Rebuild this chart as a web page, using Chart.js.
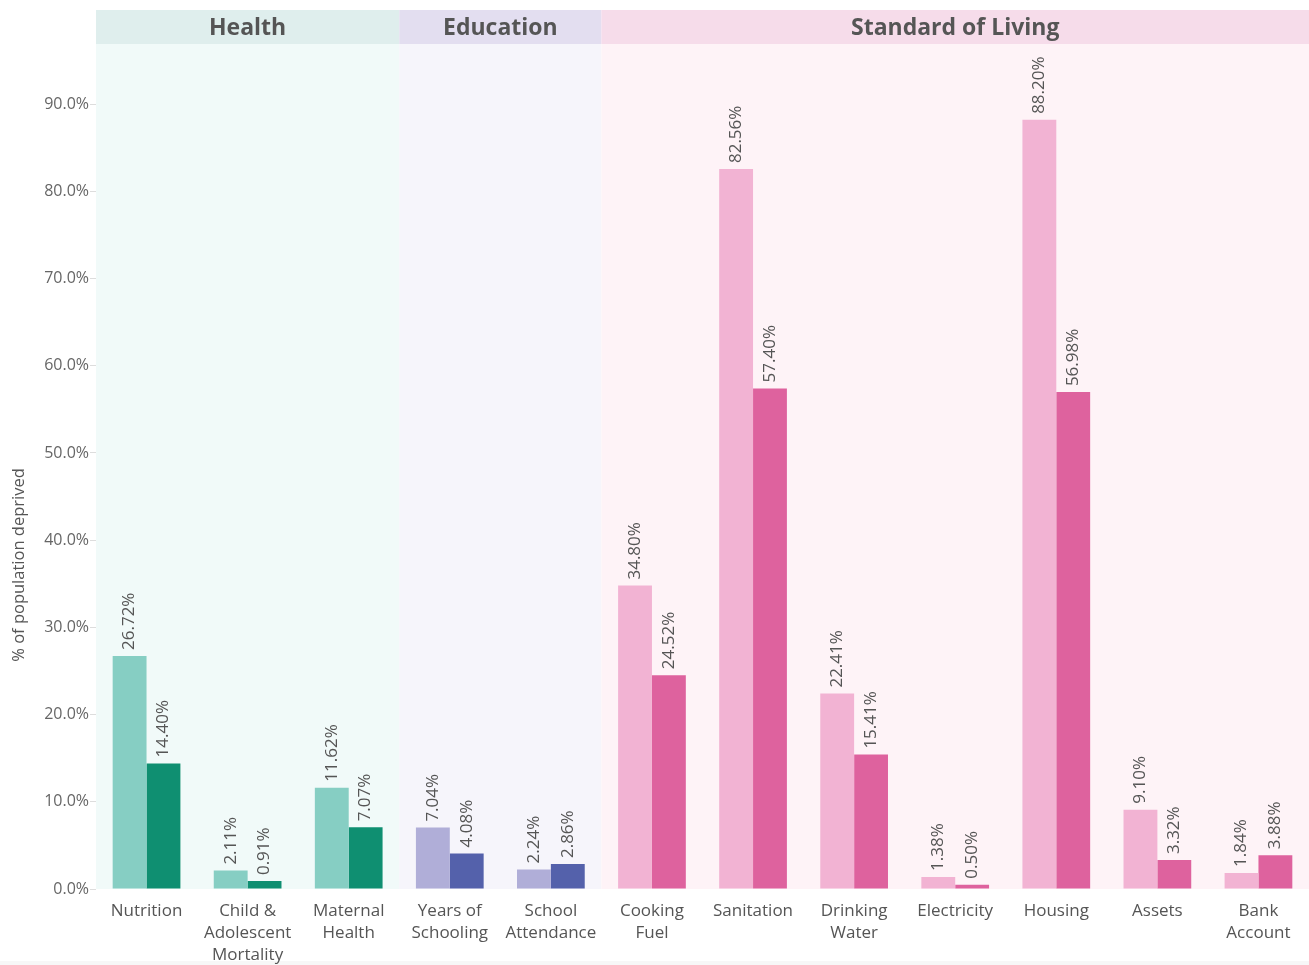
<!DOCTYPE html>
<html>
<head>
<meta charset="utf-8">
<script src="https://cdn.jsdelivr.net/npm/chart.js@4.4.0/dist/chart.umd.min.js"></script>
<style>
  html, body { margin: 0; padding: 0; background: #fff; }
  #wrap { width: 1309px; height: 965px; }
</style>
</head>
<body>
<div id="wrap"><canvas id="myChart" width="1309" height="965"></canvas></div>
<script>
// Indicators (x axis), multi-line labels
const categories = [
    ['Nutrition'],
    ['Child &', 'Adolescent', 'Mortality'],
    ['Maternal', 'Health'],
    ['Years of', 'Schooling'],
    ['School', 'Attendance'],
    ['Cooking', 'Fuel'],
    ['Sanitation'],
    ['Drinking', 'Water'],
    ['Electricity'],
    ['Housing'],
    ['Assets'],
    ['Bank', 'Account']
];

// First (light) and second (dark) bar of each indicator, % of population deprived
const lightValues = [26.72, 2.11, 11.62, 7.04, 2.24, 34.80, 82.56, 22.41, 1.38, 88.20, 9.10, 1.84];
const darkValues  = [14.40, 0.91, 7.07, 4.08, 2.86, 24.52, 57.40, 15.41, 0.50, 56.98, 3.32, 3.88];

// Dimension groups and how many indicators each one holds
const groupNames = ['Health', 'Education', 'Standard of Living'];
const groupSizes = [3, 2, 7];

// y axis ticks
const yTicks = [0, 10, 20, 30, 40, 50, 60, 70, 80, 90];

// colours per group
const lightColors  = ['#86cec3', '#b0aed8', '#f2b3d3'];
const darkColors   = ['#0f8f71', '#5461ab', '#de629e'];
const headerColors = ['#dfeeed', '#e3def0', '#f6dcea'];
const bandColors   = ['#f1faf9', '#f6f5fb', '#fef3f7'];

// which group each category belongs to
const groupOf = [];
groupSizes.forEach((n, g) => { for (let i = 0; i < n; i++) groupOf.push(g); });

const textColor = '#555';
const fontName = 'Open Sans';

// draws the coloured bands behind each group, the header titles and the y title
const bandsPlugin = {
    id: 'bands',
    beforeDraw(chart) {
        const ctx = chart.ctx;
        const area = chart.chartArea;
        const x = chart.scales.x;
        const step = (area.right - area.left) / categories.length;
        let start = 0;
        ctx.save();
        // light strip at the very bottom of the sheet
        ctx.fillStyle = '#f7f7f7';
        ctx.fillRect(0, chart.height - 4, chart.width, 4);
        groupSizes.forEach((n, g) => {
            const left = x.getPixelForValue(start) - step / 2;
            const right = x.getPixelForValue(start + n - 1) + step / 2;
            ctx.fillStyle = bandColors[g];
            ctx.fillRect(left, area.top, right - left, area.bottom - area.top);
            ctx.fillStyle = headerColors[g];
            ctx.fillRect(left, area.top - 34, right - left, 34);
            ctx.fillStyle = textColor;
            ctx.font = 'bold 23px "' + fontName + '"';
            ctx.textAlign = 'center';
            ctx.textBaseline = 'middle';
            ctx.fillText(groupNames[g], (left + right) / 2, area.top - 16);
            start += n;
        });
        // y axis title (sits lower than the middle, like the original)
        ctx.translate(19, 565);
        ctx.rotate(-Math.PI / 2);
        ctx.font = '16.5px "' + fontName + '"';
        ctx.fillText('% of population deprived', 0, 0);
        ctx.restore();
    }
};

// rotated value labels above each bar
const valueLabels = {
    id: 'valueLabels',
    afterDatasetsDraw(chart) {
        const ctx = chart.ctx;
        ctx.save();
        ctx.font = '17px "' + fontName + '"';
        ctx.fillStyle = textColor;
        ctx.textAlign = 'left';
        ctx.textBaseline = 'middle';
        chart.data.datasets.forEach((ds, d) => {
            chart.getDatasetMeta(d).data.forEach((bar, i) => {
                ctx.save();
                ctx.translate(bar.x, bar.y - 6);
                ctx.rotate(-Math.PI / 2);
                ctx.fillText(ds.data[i].toFixed(2) + '%', 0, 0);
                ctx.restore();
            });
        });
        ctx.restore();
    }
};

const ctx = document.getElementById('myChart').getContext('2d');
const myChart = new Chart(ctx, {
    type: 'bar',
    data: {
        labels: categories,
        datasets: [{
            label: 'Light',
            data: lightValues,
            backgroundColor: groupOf.map(g => lightColors[g])
        }, {
            label: 'Dark',
            data: darkValues,
            backgroundColor: groupOf.map(g => darkColors[g])
        }]
    },
    options: {
        responsive: false,
        animation: false,
        layout: { padding: { top: 44, right: 0, left: 0, bottom: 0 } },
        categoryPercentage: 0.67,
        barPercentage: 1.0,
        plugins: {
            legend: { display: false },
            tooltip: { enabled: false }
        },
        scales: {
            x: {
                grid: { display: false },
                border: { display: false },
                ticks: {
                    color: textColor,
                    font: { family: fontName, size: 17, lineHeight: 1.3 },
                    padding: 3,
                    maxRotation: 0,
                    autoSkip: false
                },
                afterFit(scale) { scale.height = 76; }
            },
            y: {
                min: 0,
                max: 96.9,
                grid: { drawOnChartArea: false, drawTicks: true, tickLength: 6, color: '#dddddd' },
                border: { display: false },
                afterBuildTicks(scale) {
                    scale.ticks = yTicks.map(v => ({ value: v }));
                },
                ticks: {
                    color: '#666',
                    font: { family: fontName, size: 16 },
                    padding: 1,
                    callback: v => v.toFixed(1) + '%'
                },
                afterFit(scale) { scale.width = 96; }
            }
        }
    },
    plugins: [bandsPlugin, valueLabels]
});
</script>
</body>
</html>
